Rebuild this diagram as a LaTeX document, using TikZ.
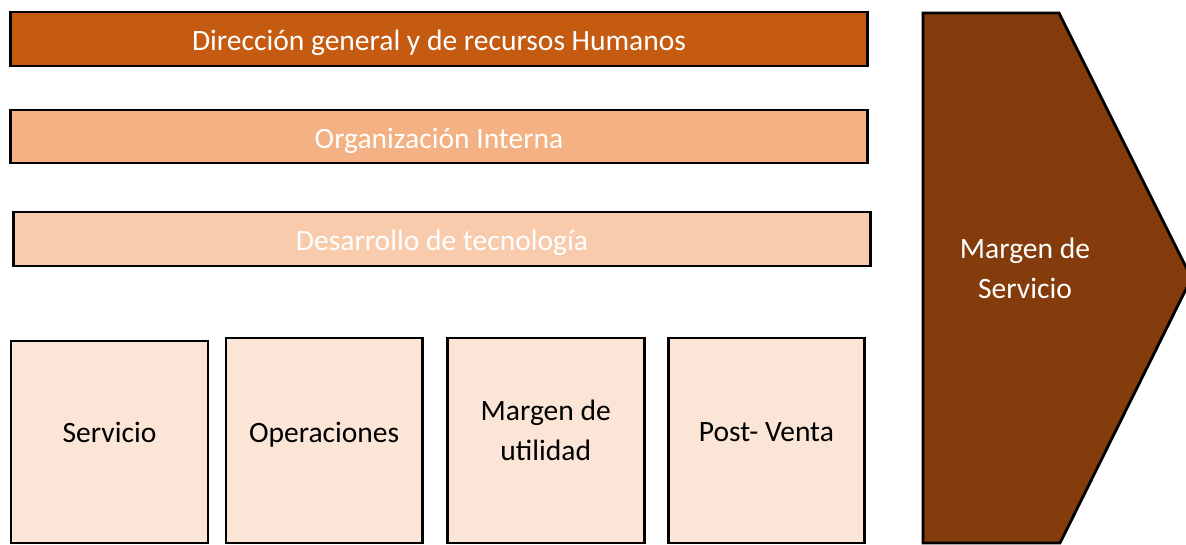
\documentclass[tikz,border=0pt]{standalone}
\usepackage{fontspec}
\setmainfont{Carlito}
\usetikzlibrary{positioning}

\definecolor{naranjaosc}{HTML}{C55A11}
\definecolor{naranjamed}{HTML}{F4B183}
\definecolor{naranjacla}{HTML}{F8CBAD}
\definecolor{durazno}{HTML}{FBE5D6}
\definecolor{cafe}{HTML}{843C0C}

\begin{document}
\begin{tikzpicture}[
    x=0.01cm, y=-0.01cm,
    every node/.style={font=\fontsize{8.4}{11.4}\selectfont},
    barra/.style={draw, line width=0.8pt, minimum width=8.56cm, minimum height=0.54cm, inner sep=0pt, text height=7.3pt, text depth=0.5pt, text=white},
    caja/.style={draw, line width=0.8pt, fill=durazno, minimum width=1.96cm, minimum height=2.05cm, inner sep=0pt, outer sep=0pt},
    etiqueta/.style={align=center, text=black}
  ]
    \useasboundingbox (0,0) rectangle (1186,544);
    \clip (0,0) rectangle (1186,544);

    % actividades de apoyo
    \node[barra, fill=naranjaosc] (direccion) at (439,39) {Dirección general y de recursos Humanos};
    \node[barra, fill=naranjamed, minimum height=0.53cm] (organizacion) at (439,136.5) {Organización Interna};
    \node[barra, fill=naranjacla] (desarrollo) at (442,239) {Desarrollo de tecnología};

    % actividades primarias
    \node[caja, minimum width=1.97cm, minimum height=2.02cm] (servicio) at (109.5,442) {};
    \node[caja, right=0.18cm of servicio, yshift=0.015cm] (operaciones) {};
    \node[caja, right=0.25cm of operaciones, minimum width=1.97cm] (margenu) {};
    \node[caja, right=0.24cm of margenu] (postventa) {};

    \node[etiqueta] (servicio-t) at ([yshift=0.1cm]servicio.center) {Servicio};
    \node[etiqueta] (operaciones-t) at ([yshift=0.06cm]operaciones.center) {Operaciones};
    \node[etiqueta] (margenu-t) at ([yshift=0.1cm]margenu.center) {Margen de\\utilidad};
    \node[etiqueta] (postventa-t) at ([yshift=0.085cm]postventa.center) {Post- Venta};

    % margen
    \draw[line width=0.8pt, fill=cafe] (923,13) -- (1059,13) -- (1191.5,278) -- (1060,543) -- (923,543) -- cycle;
    \node[align=center, text=white] (margen) at (1025,268) {Margen de\\Servicio};

  \end{tikzpicture}
\end{document}
